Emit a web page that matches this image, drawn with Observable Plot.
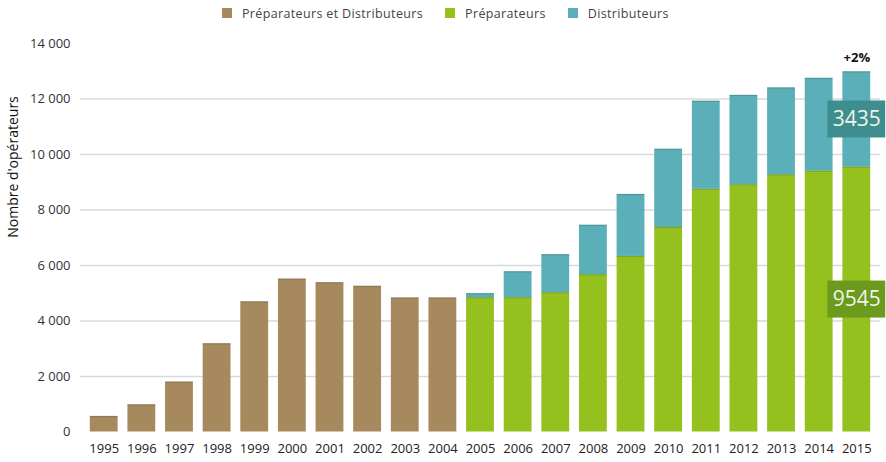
<!DOCTYPE html>
<html><head><meta charset="utf-8">
<script src="https://cdn.jsdelivr.net/npm/d3@7"></script>
<script src="https://cdn.jsdelivr.net/npm/@observablehq/plot@0.6"></script>
<style>
body{margin:0;background:#fff;font-family:"Open Sans",sans-serif;}
#legend{height:26px;display:flex;align-items:center;padding-left:222px;font-size:12.5px;letter-spacing:0.35px;color:#444;}
.item{display:flex;align-items:center;margin-right:22px;white-space:nowrap}
.sw{width:10px;height:10px;margin-right:10px;flex:none}
#chart svg{display:block}
</style></head><body>
<div id="legend"></div><div id="chart"></div>
<script>
const years = ["1995","1996","1997","1998","1999","2000","2001","2002","2003","2004","2005","2006","2007","2008","2009","2010","2011","2012","2013","2014","2015"];
const series = ["Préparateurs et Distributeurs","Préparateurs","Distributeurs"];
const colors = ["#a68a5e","#95c11f","#5aafb8"];
const combined = [560,980,1800,3180,4690,5510,5380,5250,4830,4830,null,null,null,null,null,null,null,null,null,null,null];
const preparateurs = [null,null,null,null,null,null,null,null,null,null,4840,4840,5020,5670,6330,7370,8750,8910,9270,9400,9545];
const distributeurs = [null,null,null,null,null,null,null,null,null,null,145,935,1370,1780,2230,2820,3170,3220,3130,3345,3435];
const yTicks = [0,2000,4000,6000,8000,10000,12000,14000];
const yLabel = "Nombre d'opérateurs";
const growthLabel = "+2%";
const boxColors = {"Distributeurs":"#3e8d8f","Préparateurs":"#6b9a1d"};

// legend
const lg = document.getElementById("legend");
series.forEach((s,i)=>{
  const it=document.createElement("div");it.className="item";
  const sw=document.createElement("div");sw.className="sw";sw.style.background=colors[i];
  const tx=document.createElement("span");tx.textContent=s;
  it.appendChild(sw);it.appendChild(tx);lg.appendChild(it);
});

// long table, stacked bottom-to-top in series order
const data=[];
[combined,preparateurs,distributeurs].forEach((arr,si)=>{
  arr.forEach((v,i)=>{ if(v!=null) data.push({year:years[i],series:series[si],value:v}); });
});

const last = years.length-1;
const lastYear = years[last];
const annot = [
  {year:lastYear,series:"Préparateurs",value:preparateurs[last],mid:preparateurs[last]/2},
  {year:lastYear,series:"Distributeurs",value:distributeurs[last],mid:preparateurs[last]+distributeurs[last]/2}
];
const growth = [{year:lastYear,total:preparateurs[last]+distributeurs[last],label:growthLabel}];

const fmt = d => d3.format(",")(d).replace(/,/g," ");

const chart = Plot.plot({
  width:886,height:436,
  marginTop:17,marginBottom:30.5,marginLeft:80,marginRight:6,
  style:{fontFamily:"Open Sans, sans-serif",background:"#fff"},
  x:{type:"band",domain:years,padding:0.26,round:false,label:null},
  y:{domain:[0,14000],label:null},
  color:{domain:series,range:colors},
  marks:[
    Plot.ruleY(yTicks.filter(v=>v>0&&v<14000),{stroke:"#d9d9d9",strokeWidth:1.5}),
    Plot.axisX({tickSize:0,tickPadding:12,fontSize:13,fill:"#222"}),
    Plot.axisY({ticks:yTicks,tickSize:0,tickPadding:10,fontSize:13,fill:"#333",tickFormat:fmt,label:null}),
    Plot.text([yLabel],{frameAnchor:"left",rotate:-90,dx:-67,fontSize:14,fill:"#111",text:d=>d}),
    Plot.barY(data,{x:"year",y:"value",fill:"series"}),
    Plot.tickY(data,Plot.stackY2({x:"year",y:"value",z:"series",stroke:"#000",strokeOpacity:0.13,strokeWidth:1.5})),
    Plot.barY(annot.filter(d=>d.series==="Distributeurs"),{x:"year",y1:"mid",y2:"mid",fill:boxColors["Distributeurs"],insetLeft:-15,insetRight:-15,insetTop:-18.5,insetBottom:-18.5}),
    Plot.barY(annot.filter(d=>d.series==="Préparateurs"),{x:"year",y1:"mid",y2:"mid",fill:boxColors["Préparateurs"],insetLeft:-15,insetRight:-15,insetTop:-18.5,insetBottom:-18.5}),
    Plot.text(annot,{x:"year",y:"mid",text:d=>String(d.value),fill:"#eef4e8",fontSize:21}),
    Plot.text(growth,{x:"year",y:"total",text:"label",dy:-14,fontSize:13,fontWeight:"bold",fill:"#111"})
  ]
});
document.getElementById("chart").appendChild(chart);
</script>
</body></html>
